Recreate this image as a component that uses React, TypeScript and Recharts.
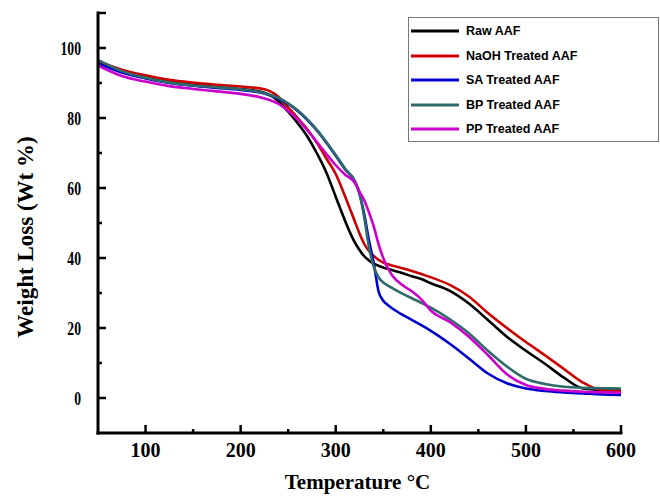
import { LineChart, Line, XAxis, YAxis, Legend } from 'recharts'

const TEMPS = [50, 75, 100, 125, 150, 175, 200, 225, 240, 250, 260, 270, 280, 290, 300, 310, 320, 325, 330, 335, 340, 345, 350, 355, 360, 370, 380, 390, 400, 420, 440, 460, 480, 500, 520, 540, 560, 580, 600]

const RAW = [96, 93.5, 91.5, 90.3, 89.5, 88.9, 88.3, 87.2, 84.8, 81.8, 78.5, 74.8, 70, 64.5, 57.5, 50.5, 44.5, 42.3, 40.5, 39.3, 38.4, 37.8, 37.3, 36.9, 36.5, 35.7, 34.8, 34, 32.8, 30.6, 27, 22.3, 17.5, 13.5, 9.8, 5.8, 2.7, 2.3, 2.2]
const NAOH = [96.3, 93.8, 92.2, 90.9, 90.1, 89.5, 89, 88.2, 86, 83, 80, 76.8, 73, 68.5, 64, 57.5, 50.5, 47, 44, 42, 40.6, 39.5, 38.7, 38.2, 37.8, 37.1, 36.3, 35.4, 34.5, 32.3, 29, 24.3, 20, 16, 12.2, 8.3, 4.4, 2.2, 2]
const SA = [95.6, 93, 91.3, 90, 89.2, 88.6, 88, 87, 85.5, 84, 82, 79.5, 76.5, 73, 69.2, 65.3, 62, 58.3, 52.5, 45, 38.5, 30.5, 27.8, 26.5, 25.5, 23.8, 22.3, 20.8, 19.2, 15.5, 11.3, 7, 4.2, 2.7, 2, 1.6, 1.3, 1, 0.9]
const BP = [96.6, 93.4, 91.5, 90.1, 89.3, 88.8, 88.2, 87.1, 85.7, 84.2, 82.2, 79.7, 76.7, 73.2, 69.4, 65.5, 62, 58.5, 51.5, 43, 37.5, 34.5, 33, 32.1, 31.3, 29.8, 28.5, 27.2, 25.8, 22.5, 18.5, 13.5, 9, 5.5, 4, 3.2, 2.9, 2.8, 2.7]
const PP = [95, 92, 90.4, 89.1, 88.3, 87.6, 86.9, 85.6, 84, 82, 79.6, 76.5, 73.2, 69.8, 66.5, 63.8, 61.5, 59, 56.5, 53, 49, 44, 40, 37, 34.8, 32.3, 30.5, 28.2, 25, 21.7, 17.5, 12.3, 6.8, 3.7, 2.6, 2.1, 1.8, 1.6, 1.5]

const X_TICKS = [100, 150, 200, 250, 300, 350, 400, 450, 500, 550, 600]
const Y_TICKS = [0, 10, 20, 30, 40, 50, 60, 70, 80, 90, 100, 110]

const SERIES = [
  { key: 'raw', name: 'Raw AAF', color: '#000000' },
  { key: 'naoh', name: 'NaOH Treated AAF', color: '#cc0000' },
  { key: 'sa', name: 'SA Treated AAF', color: '#0000cc' },
  { key: 'bp', name: 'BP Treated AAF', color: '#2f6b6b' },
  { key: 'pp', name: 'PP Treated AAF', color: '#cc00cc' },
]

const data = TEMPS.map((t, i) => ({
  t,
  raw: RAW[i],
  naoh: NAOH[i],
  sa: SA[i],
  bp: BP[i],
  pp: PP[i],
}))

const SERIF = '"Liberation Serif", "Times New Roman", serif'
const SANS = '"Liberation Sans", Arial, sans-serif'

function YTick(props: any) {
  const { x, y, payload } = props
  const v = payload.value
  const major = v % 20 === 0 || v === 110
  const showLabel = v % 20 === 0 && v <= 100
  return (
    <g>
      <line x1={x} y1={y} x2={x + (major ? 8 : 4)} y2={y} stroke="#000" strokeWidth={2.5} />
      {showLabel && (
        <text
          transform={`translate(${x - 17},${y + 6.5}) scale(0.72,1)`}
          textAnchor="end"
          fontFamily={SERIF}
          fontWeight="bold"
          fontSize={19}
          fill="#000"
        >
          {v}
        </text>
      )}
    </g>
  )
}

function XTick(props: any) {
  const { x, y, payload } = props
  const v = payload.value
  const major = v % 100 === 0
  return (
    <g>
      <line x1={x} y1={y} x2={x} y2={y - (major ? 8 : 4)} stroke="#000" strokeWidth={2.5} />
      {major && (
        <text x={x} y={y + 24} textAnchor="middle" fontFamily={SERIF} fontWeight="bold" fontSize={20} fill="#000">
          {v}
        </text>
      )}
    </g>
  )
}

// legend drawn from SERIES so the order stays as in the figure
function LegendBox() {
  return (
    <div
      style={{
        width: 251,
        height: 125,
        border: '1px solid #777',
        background: '#fff',
        boxSizing: 'border-box',
        paddingTop: 1,
      }}
    >
      {SERIES.map(s => (
        <div key={s.key} style={{ height: 24.5, display: 'flex', alignItems: 'center' }}>
          <svg width={56} height={6} style={{ marginLeft: 1 }}>
            <line x1={1} y1={3} x2={49} y2={3} stroke={s.color} strokeWidth={3} />
          </svg>
          <span style={{ fontFamily: SANS, fontWeight: 'bold', fontSize: 12.5, color: '#000' }}>{s.name}</span>
        </div>
      ))}
    </div>
  )
}

export default function App() {
  return (
    <div style={{ position: 'absolute', left: 0, top: 0, width: 660, height: 496, background: '#fff' }}>
      <LineChart width={660} height={496} data={data} margin={{ top: 13, right: 39, bottom: 0, left: 0 }}>
        <XAxis
          dataKey="t"
          type="number"
          domain={[50, 600]}
          ticks={X_TICKS}
          tick={<XTick />}
          tickLine={false}
          tickSize={0}
          tickMargin={0}
          height={63}
          axisLine={{ stroke: '#000', strokeWidth: 3, strokeLinecap: 'square' }}
          allowDataOverflow
          label={{
            content: (p: any) => (
              <text
                x={p.viewBox.x + p.viewBox.width / 2 - 2}
                y={p.viewBox.y + 56}
                textAnchor="middle"
                fontFamily={SERIF}
                fontWeight="bold"
                fontSize={21}
                fill="#000"
              >
                Temperature °C
              </text>
            ),
          }}
        />
        <YAxis
          type="number"
          domain={[-10, 110]}
          ticks={Y_TICKS}
          tick={<YTick />}
          tickLine={false}
          tickSize={0}
          tickMargin={0}
          width={98}
          axisLine={{ stroke: '#000', strokeWidth: 3, strokeLinecap: 'square' }}
          allowDataOverflow
          label={{
            content: (p: any) => (
              <text
                transform={`translate(33,${p.viewBox.y + p.viewBox.height / 2 + 14}) rotate(-90)`}
                textAnchor="middle"
                fontFamily={SERIF}
                fontWeight="bold"
                fontSize={23}
                fill="#000"
              >
                Weight Loss (Wt %)
              </text>
            ),
          }}
        />
        <Legend
          layout="vertical"
          align="center"
          verticalAlign="middle"
          content={<LegendBox />}
          wrapperStyle={{ left: 408, top: 17, width: 252, height: 126 }}
        />
        {SERIES.map(s => (
          <Line
            key={s.key}
            dataKey={s.key}
            name={s.name}
            type="monotone"
            stroke={s.color}
            strokeWidth={2.6}
            dot={false}
            isAnimationActive={false}
          />
        ))}
      </LineChart>
    </div>
  )
}
